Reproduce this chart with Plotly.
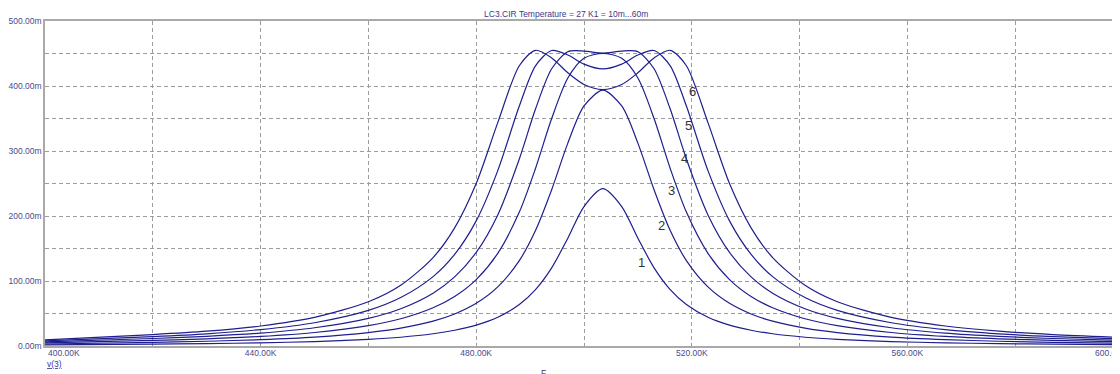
import plotly.graph_objects as go

# Frequency (kHz) and v(3) magnitude (mV), one list per K1 step
freq = [400, 420, 430, 440, 450, 460, 466, 472, 476, 480, 484, 488, 491, 494, 497, 500,
        503.5, 507, 510, 513, 516, 519, 523, 527, 531, 535, 541, 547, 557, 567, 577, 587, 600]

c1 = [1.6, 2.8, 3.7, 4.9, 6.8, 10.2, 13.5, 18.8, 24.2, 32.1, 44.2, 63.8, 86.8, 120.3, 165.9, 214.5,
      242.0, 214.5, 165.9, 120.3, 86.8, 63.8, 44.2, 32.1, 24.2, 18.8, 13.5, 10.2, 6.8, 4.9, 3.7, 2.8, 2.1]
c2 = [3.1, 5.7, 7.3, 9.8, 13.7, 20.6, 27.4, 38.2, 49.2, 65.6, 90.9, 131.4, 177.6, 240.4, 312.1, 369.3,
      393.5, 369.3, 312.1, 240.4, 177.6, 131.4, 90.9, 65.6, 49.2, 38.2, 27.4, 20.6, 13.7, 9.8, 7.3, 5.7, 4.3]
c3 = [4.7, 8.6, 11.1, 14.8, 20.8, 31.3, 41.9, 58.8, 76.2, 102.2, 142.5, 206.0, 273.1, 349.9, 412.3, 442.6,
      450.3, 442.6, 412.3, 349.9, 273.1, 206.0, 142.5, 102.2, 76.2, 58.8, 41.9, 31.3, 20.8, 14.8, 11.1, 8.6, 6.4]
c4 = [6.2, 11.5, 14.9, 19.9, 28.1, 42.6, 57.4, 81.3, 106.3, 143.9, 201.7, 287.7, 364.5, 426.5, 452.8, 453.8,
      450.5, 453.8, 452.8, 426.5, 364.5, 287.7, 201.7, 143.9, 106.3, 81.3, 57.4, 42.6, 28.1, 19.9, 14.9, 11.5, 8.6]
c5 = [7.8, 14.5, 18.8, 25.3, 35.8, 54.8, 74.5, 106.7, 140.9, 192.5, 269.8, 369.1, 431.0, 454.6, 447.7, 433.7,
      426.3, 433.7, 447.7, 454.6, 431.0, 369.1, 269.8, 192.5, 140.9, 106.7, 74.5, 54.8, 35.8, 25.3, 18.8, 14.5, 10.8]
c6 = [9.4, 17.6, 22.8, 30.8, 44.0, 68.1, 93.5, 136.1, 181.8, 250.0, 343.6, 431.2, 454.9, 443.2, 420.3, 402.3,
      394.5, 402.3, 420.3, 443.2, 454.9, 431.2, 343.6, 250.0, 181.8, 136.1, 93.5, 68.1, 44.0, 30.8, 22.8, 17.6, 13.1]

series = [c1, c2, c3, c4, c5, c6]
curve_names = ["1", "2", "3", "4", "5", "6"]
# label anchor points (freq kHz, value mV)
label_f = [510.6, 514.4, 516.3, 518.7, 519.4, 520.2]
label_v = [129, 185, 240, 289, 340, 392]

x_major = [400, 440, 480, 520, 560, 600]
x_major_text = ["", "440.00K", "480.00K", "520.00K", "560.00K", ""]
x_minor = [420, 460, 500, 540, 580]
y_major = [0, 100, 200, 300, 400, 500]
y_major_text = ["0.00m", "100.00m", "200.00m", "300.00m", "400.00m", "500.00m"]
y_minor = [50, 150, 250, 350, 450]

title_text = "LC3.CIR Temperature = 27 K1 = 10m...60m"

line_color = "#1e1e8e"
grid_color = "#9c9c9c"
axis_color = "#a9a9a9"
tick_color = "#4a4a8c"
font_family = "Liberation Sans, Arial, sans-serif"

W, H = 1112, 366  # page body adds an 8px offset

fig = go.Figure()
for s, n in zip(series, curve_names):
    fig.add_trace(go.Scatter(x=freq, y=s, mode="lines", name=n,
                             line=dict(color=line_color, width=1.2, shape="spline", smoothing=0.8),
                             showlegend=False, hoverinfo="skip"))

for n, lf, lv in zip(curve_names, label_f, label_v):
    fig.add_annotation(x=lf, y=lv, xref="x", yref="y", text=n, showarrow=False,
                       font=dict(family=font_family, size=13, color="#333333"))

# first and last x labels (first left-aligned, last cut by window edge)
fig.add_annotation(x=0, y=0, xref="paper", yref="paper", text="400.00K", showarrow=False,
                   xanchor="left", yanchor="top", xshift=1, yshift=0,
                   font=dict(family=font_family, size=8.5, color=tick_color))
fig.add_annotation(x=1, y=0, xref="paper", yref="paper", text="600.00K", showarrow=False,
                   xanchor="center", yanchor="top", xshift=-7, yshift=0,
                   font=dict(family=font_family, size=8.5, color=tick_color))
# axis captions
fig.add_annotation(x=0, y=0, xref="paper", yref="paper", text="<u>v(3)</u>", showarrow=False,
                   xanchor="left", yanchor="top", xshift=0, yshift=-11,
                   font=dict(family=font_family, size=8.5, color="#3a3aa0"))
fig.add_annotation(x=0.465, y=0, xref="paper", yref="paper", text="F", showarrow=False,
                   xanchor="center", yanchor="top", yshift=-20,
                   font=dict(family=font_family, size=8.5, color="#333366"))

fig.update_layout(
    width=W, height=H,
    margin=dict(l=37, r=0, t=13, b=28),
    paper_bgcolor="white", plot_bgcolor="white",
    title=dict(text=title_text, x=0.502, xanchor="center", y=1 - 6 / H, yanchor="middle",
               font=dict(family=font_family, size=8.5, color="#3a3a8c")),
    font=dict(family=font_family, size=8.5, color=tick_color),
)
fig.update_xaxes(range=[400, 400 + 1075 / 5.4], tickmode="array", tickvals=x_major, ticktext=x_major_text,
                 showgrid=True, gridcolor=grid_color, griddash="4px,3px", gridwidth=1,
                 minor=dict(tickmode="array", tickvals=x_minor, showgrid=True, gridcolor=grid_color,
                            griddash="4px,3px", gridwidth=1),
                 showline=True, linecolor=axis_color, linewidth=1.5, mirror=True,
                 zeroline=False, ticks="", ticklen=0, ticklabelstandoff=-2,
                 tickfont=dict(family=font_family, size=8.5, color=tick_color))
fig.update_yaxes(range=[0, 500], tickmode="array", tickvals=y_major, ticktext=y_major_text,
                 showgrid=True, gridcolor=grid_color, griddash="4px,3px", gridwidth=1,
                 minor=dict(tickmode="array", tickvals=y_minor, showgrid=True, gridcolor=grid_color,
                            griddash="4px,3px", gridwidth=1),
                 showline=True, linecolor=axis_color, linewidth=1.5, mirror=True,
                 zeroline=False, ticks="", ticklen=0,
                 tickfont=dict(family=font_family, size=8.5, color=tick_color))

fig.write_html("out.html")
